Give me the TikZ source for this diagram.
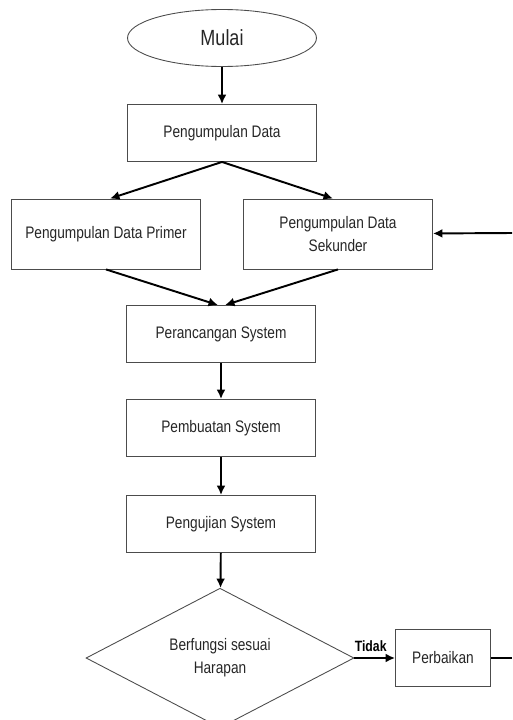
\documentclass[tikz,border=0pt]{standalone}
\usepackage{fontspec}
\setmainfont{Liberation Sans}[FakeStretch=0.82]
\usepackage{tikz}
\usetikzlibrary{shapes.geometric,arrows.meta}

\tikzset{
	kotak/.style={draw=black!70,line width=0.5pt,minimum width=3.78cm,minimum height=1.14cm,inner sep=0pt,text=black!85,font=\fontsize{9.5}{13}\selectfont,align=center},
	alur/.style={line width=1.1pt,-{Latex[length=1.9mm,width=1.8mm]}}
}

\begin{document}
\begin{tikzpicture}[x=0.02cm,y=-0.02cm]
	\clip (0,0) rectangle (512,720);
	%\draw[step=50,gray,very thin] (0,0) grid (512,720);
	\node[kotak,ellipse,font=\fontsize{12.5}{14}\selectfont] (mulai) at (222,38) {Mulai};
	\node[kotak] (data) at (222,133) {Pengumpulan Data};
	\node[kotak,minimum height=1.4cm] (primer) at (106,234) {Pengumpulan Data Primer};
	\node[kotak,minimum height=1.4cm] (sekunder) at (338,234) {Pengumpulan Data\\Sekunder};
	\node[kotak] (rancang) at (221,334) {Perancangan System};
	\node[kotak] (buat) at (221,428) {Pembuatan System};
	\node[kotak] (uji) at (221,524) {Pengujian System};
	\node[kotak,diamond,minimum width=5.36cm,minimum height=2.64cm] (cek) at (220,658) {Berfungsi sesuai\\Harapan};
	\node[kotak,minimum width=1.9cm] (baik) at (443,658) {Perbaikan};
	\coordinate (kanan1) at (512,233);
	\coordinate (kanan2) at (512,658);

	\draw[alur] (mulai) -- (data);
	\draw[alur] (data.south) -- ([xshift=0.08cm]primer.north);
	\draw[alur] (data.south) -- ([xshift=-0.1cm]sekunder.north);
	\draw[alur] (primer.south) -- ([xshift=-0.06cm]rancang.north);
	\draw[alur] (sekunder.south) -- ([xshift=0.08cm]rancang.north);
	\draw[alur] (rancang) -- (buat);
	\draw[alur] (buat) -- (uji);
	\draw[alur] (uji) -- (cek);
	\draw[alur] (cek) -- node[above,pos=0.4,font=\bfseries\fontsize{8.5}{10}\selectfont] {Tidak} (baik);
	\draw[line width=1.1pt] (baik) -- (kanan2);
	\draw[alur] (kanan1) -- (sekunder);
\end{tikzpicture}
\end{document}
